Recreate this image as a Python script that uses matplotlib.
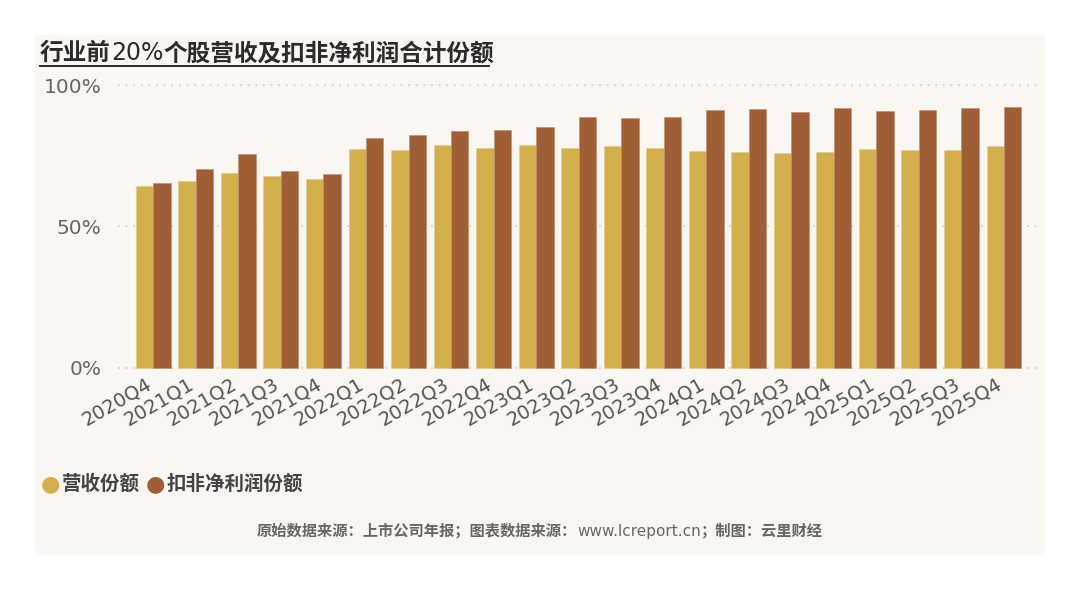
import matplotlib
matplotlib.use("Agg")
import matplotlib.pyplot as plt
import matplotlib.transforms as mtransforms
import numpy as np
from matplotlib.patches import Rectangle
from matplotlib.lines import Line2D
from matplotlib.offsetbox import TextArea, HPacker, AnchoredOffsetbox

quarters = ["2020Q4", "2021Q1", "2021Q2", "2021Q3", "2021Q4", "2022Q1", "2022Q2",
            "2022Q3", "2022Q4", "2023Q1", "2023Q2", "2023Q3", "2023Q4", "2024Q1",
            "2024Q2", "2024Q3", "2024Q4", "2025Q1", "2025Q2", "2025Q3", "2025Q4"]
revenue_share = [64.5, 66.2, 69.0, 67.7, 66.8, 77.6, 77.1, 79.0, 77.9, 79.0, 77.8,
                 78.6, 77.9, 76.7, 76.4, 75.9, 76.4, 77.4, 77.1, 77.1, 78.4]
profit_share = [65.4, 70.5, 75.8, 69.7, 68.6, 81.4, 82.3, 83.8, 84.0, 85.2, 88.8,
                88.5, 88.9, 91.2, 91.7, 90.6, 91.9, 90.9, 91.2, 91.9, 92.4]
series_names = ["营收份额", "扣非净利润份额"]

GOLD = "#d3b04c"
BROWN = "#a05e36"
PANEL = "#faf7f3"
FONTS = ["DejaVu Sans", "Noto Sans CJK SC"]
CJK = ["Noto Sans CJK SC"]
plt.rcParams["font.family"] = FONTS

W, H = 1080, 589
fig = plt.figure(figsize=(W / 100, H / 100), dpi=100, facecolor="white")


def mixed_text(x, y, parts, size, color, loc):
    # parts: (text, family, weight) pieces laid out on one baseline
    areas = [TextArea(t, textprops=dict(family=f, fontweight=w, fontsize=size, color=color))
             for t, f, w in parts]
    box = HPacker(children=areas, align="baseline", pad=0, sep=0)
    anchored = AnchoredOffsetbox(loc=loc, child=box, pad=0, borderpad=0, frameon=False,
                                 bbox_to_anchor=(x, y), bbox_transform=fig.transFigure)
    fig.add_artist(anchored)


# beige card behind everything
fig.patches.append(Rectangle((35 / W, 1 - 555 / H), 1010 / W, 520 / H,
                             transform=fig.transFigure, facecolor=PANEL,
                             edgecolor="none", zorder=-10))

ax = fig.add_axes([118 / W, 0.376 - 0.0048, 920 / W, 0.4935])
ax.set_facecolor("none")
ax.set_zorder(2)

x = np.arange(len(quarters))
width = 0.41
ax.bar(x - width / 2, revenue_share, width, color=GOLD, edgecolor="#e2c98a",
       linewidth=0.4, zorder=3)
ax.bar(x + width / 2, profit_share, width, color=BROWN, edgecolor="#c08a68",
       linewidth=0.4, zorder=3)

ax.set_xlim(-0.83, len(quarters) - 1 + 0.8)
ax.set_ylim(-1, 102)
ax.set_yticks([0, 50, 100])
ax.set_yticklabels(["0%", "50%", "100%"])
for y in [0, 50, 100]:
    ax.axhline(y, color="#c9c1b9", linestyle=(0, (1, 4)), linewidth=1.1, zorder=1)

for s in ax.spines.values():
    s.set_visible(False)
ax.tick_params(axis="y", length=0, pad=12, labelsize=14.5, labelcolor="#666666")
ax.tick_params(axis="x", length=0, pad=3, labelsize=14, labelcolor="#555555")
ax.set_xticks(x)
ax.set_xticklabels(quarters, rotation=30, ha="right", rotation_mode="anchor")
shift = mtransforms.ScaledTranslation(-8 / 100, 0, fig.dpi_scale_trans)
for lab in ax.get_xticklabels():
    lab.set_transform(lab.get_transform() + shift)

# title with underline
mixed_text(40 / W, 1 - 53 / H,
           [("行业前", CJK, "bold"), ("20%", ["DejaVu Sans"], "normal"),
            ("个股营收及扣非净利润合计份额", CJK, "bold")],
           17, "#2b2b2b", "center left")
fig.add_artist(Line2D([40 / W, 489 / W], [1 - 66 / H, 1 - 66 / H],
                      transform=fig.transFigure, color="#2b2b2b", linewidth=1.4))

# legend
legend_x = [50, 155]
for px, name, col in zip(legend_x, series_names, [GOLD, BROWN]):
    fig.text(px / W, 1 - 484 / H, "●", fontsize=16, color=col, va="center",
             ha="center", family=FONTS)
    fig.text((px + 12) / W, 1 - 484 / H, name, fontsize=14, color="#444444",
             va="center", ha="left", fontweight="bold", family=CJK)

mixed_text(540 / W, 1 - 531 / H,
           [("原始数据来源：上市公司年报；图表数据来源：", CJK, "bold"),
            ("www.lcreport.cn", ["DejaVu Sans"], "normal"),
            ("；制图：云里财经", CJK, "bold")],
           11, "#666666", "center")

fig.savefig("out.png", dpi=100, facecolor="white")
